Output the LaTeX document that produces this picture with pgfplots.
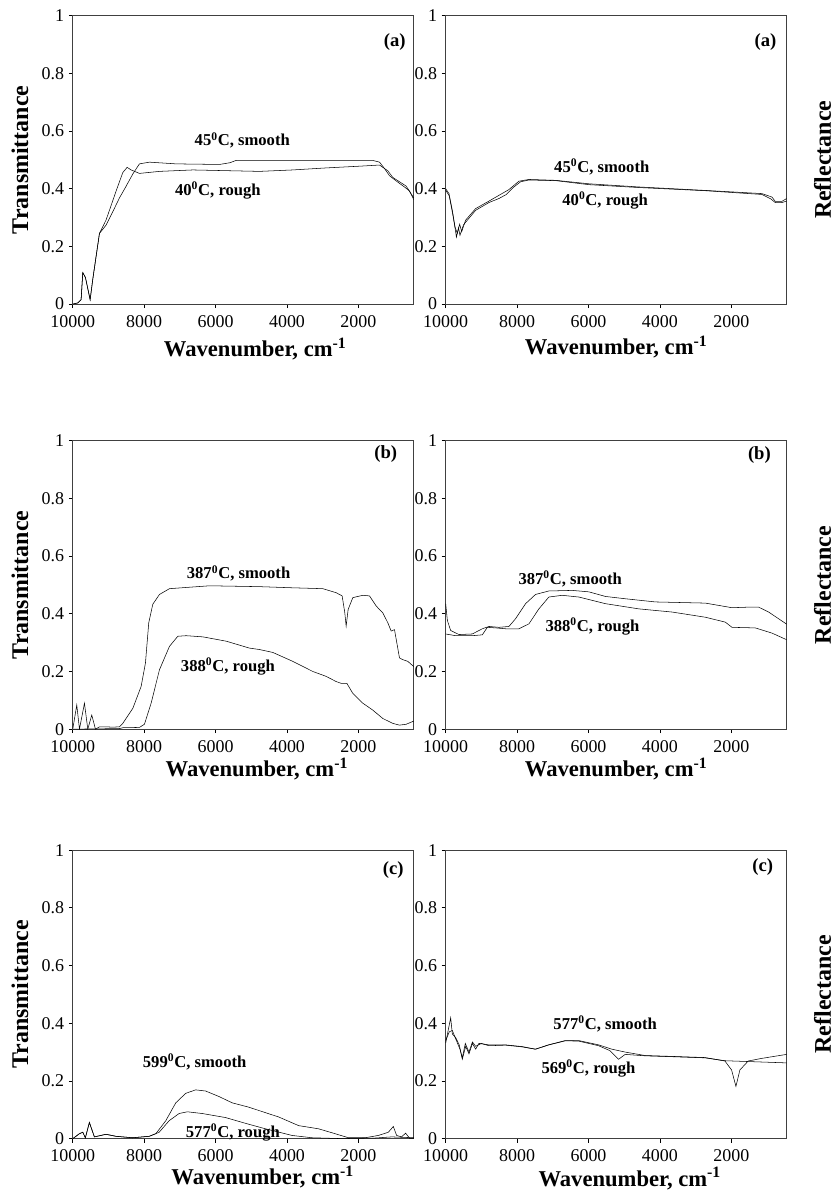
\documentclass[border=0pt]{standalone}
\usepackage{fontspec}
\setmainfont{Liberation Serif}
\usepackage{pgfplots}
\pgfplotsset{compat=1.18}

\tikzset{
  ann/.style={font=\bfseries\fontsize{12.5}{14}\selectfont},
  tag/.style={font=\bfseries\fontsize{14}{16}\selectfont},
}
\pgfplotsset{
  panel/.style={
    scale only axis, width=256.5pt, height=217pt,
    x dir=reverse, xmin=450, xmax=10000, ymin=0, ymax=1,
    xtick={10000,8000,6000,4000,2000}, ytick={0,0.2,0.4,0.6,0.8,1},
    scaled x ticks=false,
    xtick pos=bottom, ytick pos=left, tick align=outside,
    major tick length=3pt,
    tick style={black, line width=0.6pt},
    axis line style={black!75, line width=0.8pt},
    /pgf/number format/assume math mode=true,
    xticklabel style={/pgf/number format/1000 sep={}, yshift=-2pt},
    tick label style={font=\fontsize{13.5}{15}\selectfont},
    xlabel={Wavenumber, cm\textsuperscript{-1}},
    xlabel style={font=\bfseries\fontsize{17}{19}\selectfont, anchor=center},
    ylabel style={font=\bfseries\fontsize{18}{20}\selectfont, anchor=center},
    clip mode=individual,
    cycle list={{black, mark=none, line width=0.7pt, line join=round}},
  },
  tpanel/.style={panel, ylabel={Transmittance},
    ylabel style={at={(axis description cs:-0.155,0.5)}}},
  rpanel/.style={panel, ylabel={Reflectance},
    ylabel style={at={(axis description cs:1.105,0.5)}}},
}

\begin{document}
\begin{tikzpicture}
\path (0,0) rectangle (627pt,895.5pt);

% ---- (a) transmittance
\begin{axis}[tpanel, at={(54.75pt,666.75pt)}, anchor=south west,
    xlabel style={at={(axis description cs:0.535,-0.156)}}]
  \addplot coordinates {(10000,0)(9860,0.004)(9767,0.015)(9720,0.109)(9645,0.092)(9514,0.015)(9440,0.086)(9253,0.245)(9066,0.274)(8880,0.32)(8693,0.368)(8500,0.41)(8319,0.451)(8133,0.486)(7852,0.492)(7105,0.486)(5892,0.484)(5600,0.49)(5425,0.498)(3838,0.498)(1597,0.498)(1410,0.492)(1270,0.47)(1130,0.445)(944,0.427)(700,0.405)(570,0.392)(450,0.362)};
  \addplot coordinates {(10000,0)(9860,0.004)(9767,0.015)(9720,0.109)(9645,0.092)(9514,0.015)(9440,0.086)(9253,0.245)(9066,0.292)(8786,0.392)(8599,0.456)(8478,0.474)(8366,0.465)(8133,0.453)(7572,0.46)(6639,0.465)(4771,0.46)(3838,0.465)(2904,0.472)(1970,0.478)(1410,0.482)(1177,0.462)(1037,0.439)(663,0.409)(450,0.368)};
  \node[ann] at (axis cs:5253,0.567) {45\textsuperscript{0}C, smooth};
  \node[ann] at (axis cs:5935,0.393) {40\textsuperscript{0}C, rough};
  \node[tag] at (axis description cs:0.944,0.91) {(a)};
\end{axis}

% ---- (a) reflectance
\begin{axis}[rpanel, at={(335.25pt,666.75pt)}, anchor=south west,
    xlabel style={at={(axis description cs:0.5,-0.15)}}]
  \addplot coordinates {(10000,0.4)(9907,0.383)(9814,0.325)(9739,0.268)(9674,0.245)(9608,0.277)(9552,0.251)(9441,0.291)(9161,0.331)(8788,0.357)(8508,0.377)(8228,0.397)(7949,0.426)(7669,0.432)(6923,0.429)(5991,0.417)(4592,0.406)(2727,0.394)(1142,0.383)(862,0.371)(769,0.356)(583,0.356)(450,0.366)};
  \addplot coordinates {(10000,0.395)(9900,0.375)(9800,0.31)(9720,0.25)(9700,0.232)(9640,0.265)(9600,0.238)(9500,0.275)(9161,0.325)(8788,0.352)(8508,0.366)(8300,0.38)(8100,0.405)(7900,0.424)(7669,0.43)(6923,0.428)(5991,0.414)(4592,0.404)(2727,0.393)(1142,0.38)(900,0.365)(769,0.352)(583,0.352)(450,0.357)};
  \node[ann] at (axis cs:5628,0.475) {45\textsuperscript{0}C, smooth};
  \node[ann] at (axis cs:5533,0.359) {40\textsuperscript{0}C, rough};
  \node[tag] at (axis description cs:0.938,0.91) {(a)};
\end{axis}

% ---- (b) transmittance
\begin{axis}[tpanel, at={(54.75pt,347pt)}, anchor=south west,
    xlabel style={at={(axis description cs:0.54,-0.138)}}]
  \addplot coordinates {(10000,0)(9888,0.084)(9813,0)(9673,0.09)(9580,0)(9468,0.049)(9365,0)(9253,0.008)(9066,0.008)(8880,0.007)(8693,0.008)(8600,0.02)(8319,0.072)(8086,0.148)(7965,0.229)(7872,0.369)(7759,0.433)(7572,0.467)(7292,0.487)(6172,0.497)(4771,0.494)(3838,0.49)(2997,0.487)(2624,0.473)(2456,0.462)(2381,0.403)(2344,0.357)(2288,0.415)(2157,0.456)(1877,0.464)(1690,0.462)(1503,0.427)(1317,0.403)(1177,0.369)(1083,0.34)(990,0.345)(850,0.247)(757,0.241)(617,0.235)(450,0.217)};
  \addplot coordinates {(10000,0)(8693,0.002)(8600,0.005)(8133,0.006)(7993,0.017)(7806,0.09)(7572,0.206)(7292,0.287)(7059,0.322)(6826,0.324)(6359,0.32)(5705,0.305)(5052,0.281)(4771,0.276)(4398,0.266)(3838,0.235)(3278,0.2)(2904,0.183)(2624,0.165)(2484,0.159)(2325,0.159)(2157,0.124)(1877,0.09)(1597,0.066)(1317,0.037)(1037,0.02)(850,0.014)(663,0.017)(450,0.028)};
  \node[ann] at (axis cs:5357,0.54) {387\textsuperscript{0}C, smooth};
  \node[ann] at (axis cs:5655,0.218) {388\textsuperscript{0}C, rough};
  \node[tag] at (axis description cs:0.918,0.955) {(b)};
\end{axis}

% ---- (b) reflectance
\begin{axis}[rpanel, at={(335.25pt,347pt)}, anchor=south west,
    xlabel style={at={(axis description cs:0.5,-0.138)}}]
  \addplot coordinates {(10000,0.435)(9953,0.377)(9860,0.342)(9627,0.328)(9254,0.33)(8974,0.348)(8788,0.356)(8508,0.353)(8228,0.356)(8042,0.383)(7762,0.435)(7483,0.467)(7110,0.479)(6457,0.481)(5991,0.476)(5524,0.46)(4965,0.452)(4126,0.441)(2727,0.437)(1981,0.421)(1515,0.423)(1235,0.423)(956,0.406)(450,0.364)};
  \addplot coordinates {(10000,0.33)(9720,0.324)(9254,0.324)(8974,0.327)(8834,0.353)(8601,0.351)(8322,0.348)(7949,0.348)(7669,0.365)(7389,0.417)(7110,0.458)(6737,0.464)(6270,0.458)(5524,0.435)(4592,0.417)(3660,0.406)(2727,0.388)(2168,0.371)(1981,0.353)(1329,0.351)(862,0.333)(450,0.31)};
  \node[ann] at (axis cs:6512,0.52) {387\textsuperscript{0}C, smooth};
  \node[ann] at (axis cs:5888,0.355) {388\textsuperscript{0}C, rough};
  \node[tag] at (axis description cs:0.92,0.95) {(b)};
\end{axis}

% ---- (c) transmittance
\begin{axis}[tpanel, at={(54.75pt,39pt)}, anchor=south west,
    xlabel style={at={(axis description cs:0.557,-0.134)}}]
  \addplot coordinates {(10000,0)(9814,0.017)(9721,0.022)(9647,0.003)(9535,0.056)(9395,0.006)(9070,0.015)(8791,0.008)(8326,0.003)(7860,0.008)(7674,0.017)(7395,0.062)(7116,0.124)(6837,0.157)(6558,0.169)(6279,0.165)(5907,0.146)(5535,0.124)(5070,0.109)(4605,0.09)(4233,0.075)(3674,0.045)(3116,0.034)(2651,0.017)(2279,0.003)(1814,0.003)(1442,0.011)(1163,0.022)(1023,0.042)(930,0.011)(791,0.006)(679,0.019)(558,0)(450,0)};
  \addplot coordinates {(10000,0)(9814,0.017)(9721,0.022)(9647,0.003)(9535,0.056)(9395,0.006)(9070,0.015)(8791,0.008)(8326,0.003)(7860,0.008)(7581,0.022)(7302,0.062)(7023,0.087)(6791,0.093)(6372,0.087)(5721,0.073)(5163,0.053)(4605,0.034)(3860,0.011)(3302,0.003)(2465,0)(1535,0.002)(1070,0.006)(450,0.003)};
  \node[ann] at (axis cs:6587,0.266) {599\textsuperscript{0}C, smooth};
  \node[ann] at (axis cs:5516,0.021) {577\textsuperscript{0}C, rough};
  \node[tag] at (axis description cs:0.94,0.93) {(c)};
\end{axis}

% ---- (c) reflectance
\begin{axis}[rpanel, at={(335.25pt,39pt)}, anchor=south west,
    xlabel style={at={(axis description cs:0.54,-0.138)}}]
  \addplot coordinates {(10000,0.331)(9860,0.419)(9814,0.363)(9720,0.35)(9620,0.325)(9534,0.275)(9440,0.32)(9348,0.294)(9250,0.33)(9160,0.31)(9070,0.33)(8790,0.325)(8324,0.325)(7858,0.319)(7486,0.31)(7114,0.325)(6648,0.34)(6276,0.34)(5717,0.325)(5345,0.31)(4972,0.3)(4414,0.288)(3668,0.285)(2737,0.281)(2179,0.269)(1993,0.238)(1871,0.181)(1760,0.238)(1527,0.269)(1155,0.278)(450,0.292)};
  \addplot coordinates {(10000,0.34)(9900,0.37)(9814,0.375)(9700,0.34)(9600,0.31)(9534,0.28)(9450,0.33)(9348,0.3)(9250,0.335)(9160,0.32)(9000,0.33)(8790,0.322)(8324,0.324)(7858,0.318)(7486,0.31)(7114,0.325)(6648,0.339)(6276,0.338)(5717,0.322)(5400,0.305)(5158,0.275)(4972,0.292)(4414,0.287)(3668,0.284)(2737,0.28)(2179,0.27)(450,0.2625)};
  \node[ann] at (axis cs:5533,0.398) {577\textsuperscript{0}C, smooth};
  \node[ann] at (axis cs:6000,0.242) {569\textsuperscript{0}C, rough};
  \node[tag] at (axis description cs:0.93,0.94) {(c)};
\end{axis}
\end{tikzpicture}
\end{document}
